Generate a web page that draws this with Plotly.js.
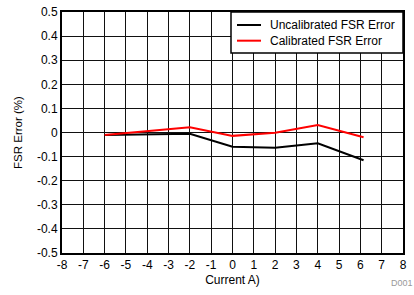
<!DOCTYPE html>
<html>
<head>
<meta charset="utf-8">
<script src="https://cdn.plot.ly/plotly-3.0.1.min.js"></script>
<style>html,body{margin:0;padding:0;background:#fff;}#chart{width:414px;height:295px;}</style>
</head>
<body>
<div id="chart"></div>
<script>
const currentA = [-6, -2, 0, 2, 4, 6.15];
const uncalibrated = [-0.01, -0.005, -0.059, -0.063, -0.045, -0.115];
const calibrated = [-0.01, 0.022, -0.014, -0.001, 0.031, -0.02];
const seriesNames = ['Uncalibrated FSR Error', 'Calibrated FSR Error'];
const seriesColors = ['#000000', '#ff0000'];
const xTicks = [-8,-7,-6,-5,-4,-3,-2,-1,0,1,2,3,4,5,6,7,8];
const yTicks = [-0.5,-0.4,-0.3,-0.2,-0.1,0,0.1,0.2,0.3,0.4,0.5];
const yTickText = ['-0.5','-0.4','-0.3','-0.2','-0.1','0','0.1','0.2','0.3','0.4','0.5'];

const fam = 'Liberation Sans, Arial, sans-serif';
const font = {family: fam, size: 12, color: '#000'};
const traces = [
  {x: currentA, y: uncalibrated, mode: 'lines', name: seriesNames[0], line: {color: seriesColors[0], width: 2}},
  {x: currentA, y: calibrated, mode: 'lines', name: seriesNames[1], line: {color: seriesColors[1], width: 2}}
];

// manual legend (box + sample lines + labels), in paper coordinates
const legX0 = 0.4956, legY0 = 0.8299;
const rowY = [0.946, 0.881];
const shapes = [{type: 'rect', xref: 'paper', yref: 'paper', x0: legX0, x1: 1, y0: legY0, y1: 1,
                 fillcolor: '#fff', line: {color: '#000', width: 1.5}, layer: 'above'}];
const annotations = [];
seriesNames.forEach((n, i) => {
  shapes.push({type: 'line', xref: 'paper', yref: 'paper', x0: 0.5132, x1: 0.5836, y0: rowY[i], y1: rowY[i],
               line: {color: seriesColors[i], width: 2}, layer: 'above'});
  annotations.push({text: n, xref: 'paper', yref: 'paper', x: 0.604, y: rowY[i], xanchor: 'left', yanchor: 'middle',
                    showarrow: false, font: {family: fam, size: 12, color: '#000'}});
});
annotations.push({text: 'D001', xref: 'paper', yref: 'paper', x: 0, y: 0, xshift: 327, yshift: -30, xanchor: 'left', yanchor: 'middle',
                  showarrow: false, font: {family: fam, size: 9, color: '#999'}});

const layout = {
  width: 414, height: 295,
  margin: {l: 62, r: 11, t: 12, b: 42},
  paper_bgcolor: '#fff', plot_bgcolor: '#fff',
  font: font,
  showlegend: false,
  xaxis: {range: [-8, 8], tickvals: xTicks, ticktext: xTicks.map(String), showgrid: true, gridcolor: '#111', gridwidth: 1,
          zeroline: false, showline: true, linecolor: '#000', linewidth: 2, mirror: true, ticks: '', ticklen: 0,
          tickfont: font, title: {text: 'Current A)', font: font, standoff: 4}},
  yaxis: {range: [-0.5, 0.5], tickvals: yTicks, ticktext: yTickText, showgrid: true, gridcolor: '#111', gridwidth: 1,
          zeroline: false, showline: true, linecolor: '#000', linewidth: 2, mirror: true, ticks: '', ticklen: 0,
          tickfont: font, title: {text: 'FSR Error (%)', font: {family: fam, size: 11.5, color: '#000'}, standoff: 12}},
  shapes: shapes,
  annotations: annotations
};
Plotly.newPlot('chart', traces, layout, {staticPlot: true, displayModeBar: false});
</script>
</body>
</html>
